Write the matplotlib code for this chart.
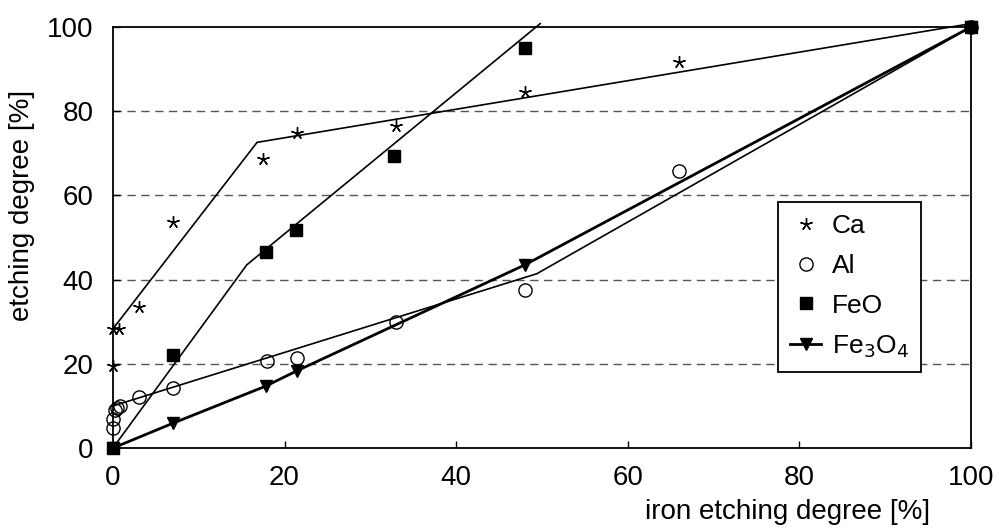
import matplotlib
matplotlib.use("Agg")
import matplotlib.pyplot as plt

plt.rcParams["font.family"] = ["Liberation Sans", "DejaVu Sans"]

# measured points (iron etching degree vs. component etching degree)
ca_x = [0, 0, 0.7, 3, 7, 17.5, 21.5, 33, 48, 66, 100]
ca_y = [19.5, 28.3, 28.3, 33.6, 53.7, 68.6, 74.9, 76.6, 84.6, 91.7, 100]

al_x = [0, 0, 0.2, 0.5, 0.8, 3, 7, 18, 21.5, 33, 48, 66, 100]
al_y = [4.8, 7.0, 9.0, 9.6, 10.0, 12.2, 14.2, 20.6, 21.5, 30.0, 37.6, 65.7, 100]

feo_x = [0, 7, 17.8, 21.3, 32.8, 48, 100]
feo_y = [0, 22.2, 46.6, 51.8, 69.3, 95.0, 100]

fe3o4_x = [0, 7, 17.8, 21.5, 48, 100]
fe3o4_y = [0, 5.9, 14.7, 18.4, 43.5, 100]

# piecewise fit lines
ca_fit_x = [0, 16.8, 100]
ca_fit_y = [28.3, 72.6, 100.8]
feo_fit_x = [0, 15.6, 49.8]
feo_fit_y = [0, 43.5, 100.8]
al_fit_x = [0, 49.4, 100]
al_fit_y = [10.0, 41.4, 100]

fig = plt.figure(figsize=(9.99, 5.29), dpi=100)
ax = fig.add_axes([0.113, 0.153, 0.859, 0.796])

for y in [20, 40, 60, 80]:
    ax.axhline(y, color="#555555", lw=1.0, ls=(0, (6, 4)), zorder=1)

ax.plot(ca_fit_x, ca_fit_y, color="black", lw=1.2, clip_on=False, zorder=2)
ax.plot(feo_fit_x, feo_fit_y, color="black", lw=1.2, clip_on=False, zorder=2)
ax.plot(al_fit_x, al_fit_y, color="black", lw=1.2, clip_on=False, zorder=2)

ax.plot(ca_x, ca_y, ls="none", marker=(5, 2, 0), ms=9, mec="black", mew=1.0,
        clip_on=False, zorder=3, label="Ca")
ax.plot(al_x, al_y, ls="none", marker="o", ms=9.5, mfc="none", mec="black", mew=1.0,
        clip_on=False, zorder=3, label="Al")
ax.plot(feo_x, feo_y, ls="none", marker="s", ms=8.5, mfc="black", mec="black",
        clip_on=False, zorder=3, label="FeO")
ax.plot(fe3o4_x, fe3o4_y, color="black", lw=2.0, marker="v", ms=9, mfc="black",
        mec="black", clip_on=False, zorder=3, label="Fe$_3$O$_4$")

ax.set_xlim(0, 100)
ax.set_ylim(0, 100)
ax.set_xticks([0, 20, 40, 60, 80, 100])
ax.set_yticks([0, 20, 40, 60, 80, 100])
ax.tick_params(direction="in", length=5, width=1, labelsize=20)
ax.tick_params(axis="y", pad=14)
ax.tick_params(axis="x", pad=12)
for s in ax.spines.values():
    s.set_linewidth(1.3)

ax.set_ylabel("etching degree [%]", fontsize=20)
ax.yaxis.set_label_coords(-0.091, 0.577)
ax.set_xlabel("iron etching degree [%]", fontsize=20, ha="right")
ax.xaxis.set_label_coords(0.952, -0.12)

leg = ax.legend(loc="upper left", bbox_to_anchor=(0.775, 0.584), borderaxespad=0,
                fontsize=19, frameon=True, fancybox=False, edgecolor="black",
                handlelength=1.2, handletextpad=0.4, borderpad=0.45,
                labelspacing=0.6, framealpha=1)
leg.get_frame().set_linewidth(1.3)

fig.savefig("out.png", dpi=100)
